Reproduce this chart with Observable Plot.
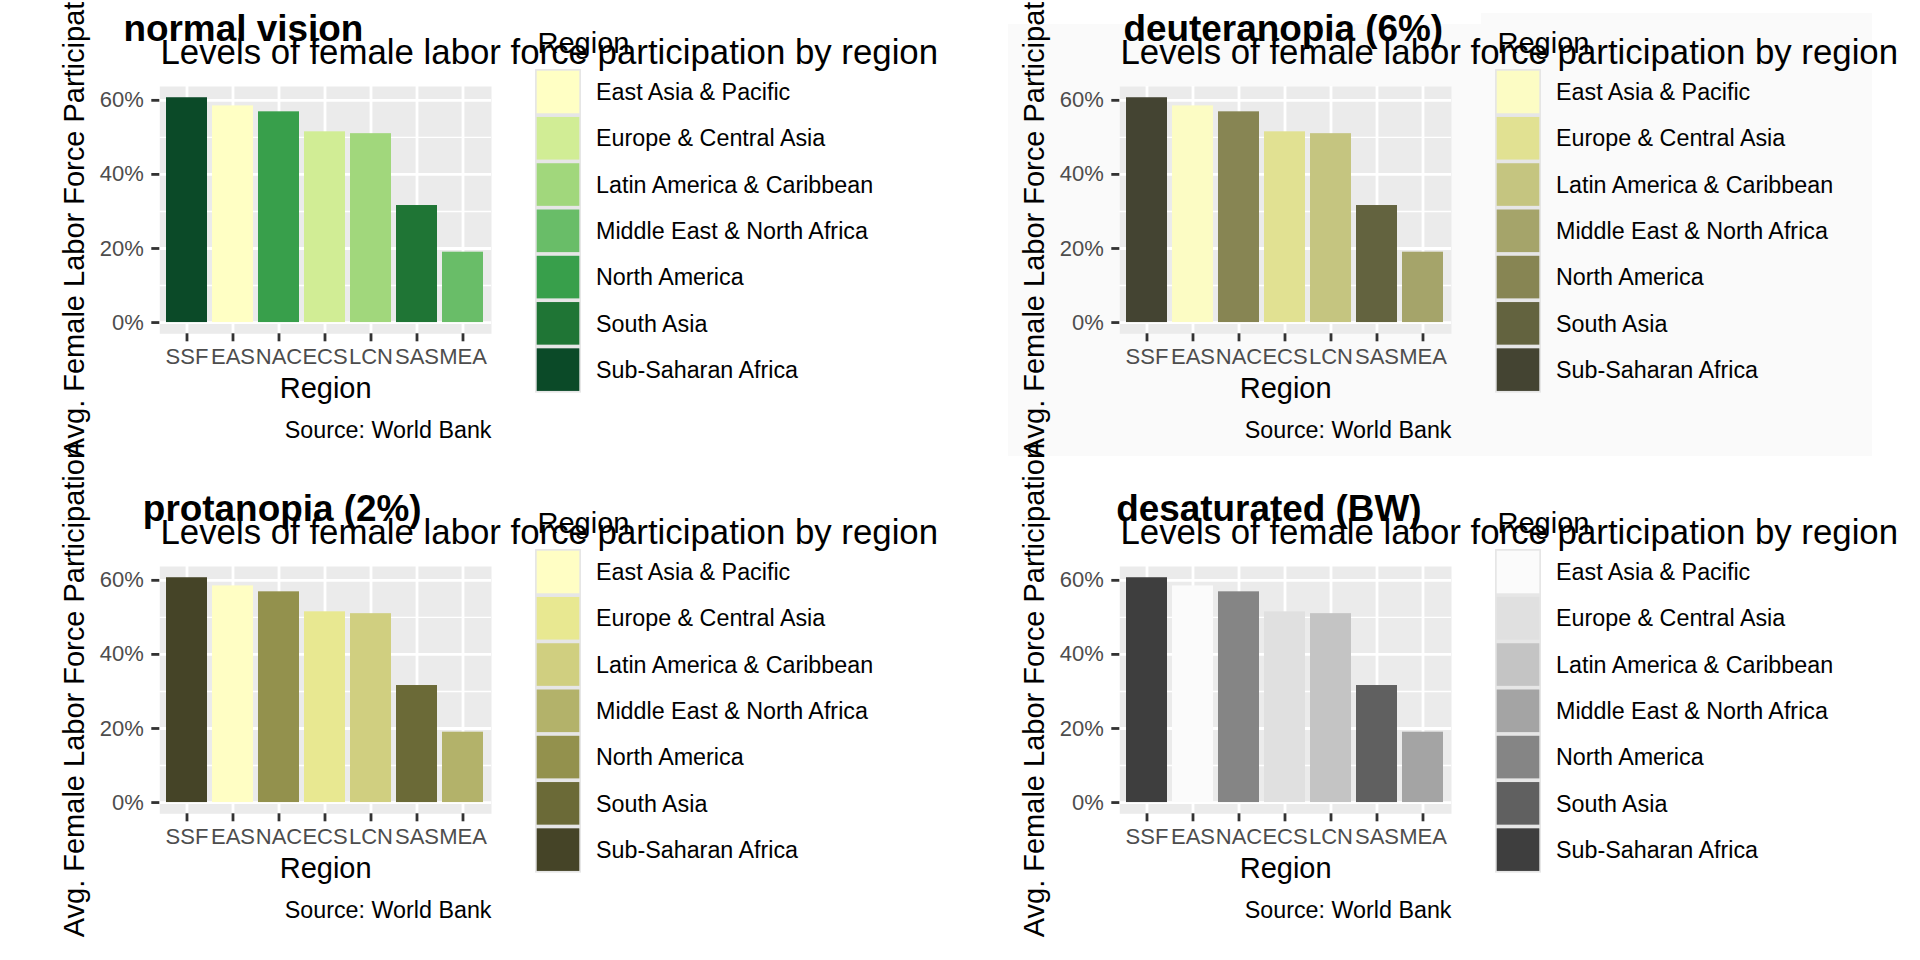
<!DOCTYPE html>
<html><head><meta charset="utf-8">
<script src="https://cdn.jsdelivr.net/npm/d3@7"></script>
<script src="https://cdn.jsdelivr.net/npm/@observablehq/plot@0.6"></script>
<style>
html,body{margin:0;padding:0;background:#fff;}
#root{position:relative;width:1920px;height:960px;overflow:hidden;background:#fff;}
.cell{position:absolute;width:960px;height:480px;}
.cell svg{position:absolute;left:0;top:0;overflow:visible;}
</style></head><body><div id="root"></div>
<script>
// ---- data ----
const codes = ["SSF","EAS","NAC","ECS","LCN","SAS","MEA"];
const codeRegions = ["Sub-Saharan Africa","East Asia & Pacific","North America","Europe & Central Asia","Latin America & Caribbean","South Asia","Middle East & North Africa"];
const participation = [60.7, 58.5, 56.9, 51.5, 51.0, 31.6, 19.0];
const legendRegions = ["East Asia & Pacific","Europe & Central Asia","Latin America & Caribbean","Middle East & North Africa","North America","South Asia","Sub-Saharan Africa"];
const yTicks = [0, 20, 40, 60];
const yMinor = [10, 30, 50];
const panelLabels = ["normal vision","deuteranopia (6%)","protanopia (2%)","desaturated (BW)"];
const paletteNormal = ["#ffffc4","#d1ed95","#a1d77c","#69bd68","#389f4b","#1f7535","#0b4a28"];
const paletteDeutan = ["#fcfcc4","#e1e192","#c5c580","#a5a46a","#878553","#63633f","#444432"];
const paletteProtan = ["#fffec4","#e8e891","#d0cf80","#b3b26a","#93914d","#6b6a37","#454427"];
const paletteDesat  = ["#fbfbfb","#e0e0e0","#c4c4c4","#a4a4a4","#858585","#606060","#3e3e3e"];
const palettes = [paletteNormal, paletteDeutan, paletteProtan, paletteDesat];
const titleText = "Levels of female labor force participation by region";
const xTitle = "Region";
const yTitle = "Avg. Female Labor Force Participation";
const caption = "Source: World Bank";
const legendTitle = "Region";

const rows = codes.map((c, i) => ({code: c, region: codeRegions[i], value: participation[i]}));
const FONT = "'Liberation Sans', Arial, Helvetica, sans-serif";

const canvas = document.createElement("canvas");
const ctx = canvas.getContext("2d");
function textWidth(t, font) { ctx.font = font; return ctx.measureText(t).width; }

const W = 960, H = 480;
const mL = 159.3, mR = 469, mT = 86, mB = 146.7;
const ymax = d3.max(participation);
const pad = ymax * 0.05;

const root = document.getElementById("root");
const cellPos = [[0,0],[960,0],[0,480],[960,480]];

panelLabels.forEach((label, k) => {
  const palette = palettes[k];
  const labW = textWidth(label, `bold 36.9px ${FONT}`);
  const labX = 3 + labW / 2; // cowplot hjust = -0.5
  const chart = Plot.plot({
    width: W, height: H,
    marginLeft: mL, marginRight: mR, marginTop: mT, marginBottom: mB,
    style: {fontFamily: FONT, fontSize: "22px", overflow: "visible", background: "transparent"},
    x: {domain: codes, paddingInner: 0.1, paddingOuter: 0.15, label: null},
    y: {domain: [-pad, ymax + pad], label: null},
    color: {domain: legendRegions, range: palette},
    marks: [
      Plot.frame({fill: "#ebebeb", stroke: "none"}),
      Plot.gridY({ticks: yMinor, stroke: "#ffffff", strokeOpacity: 1, strokeWidth: 1.4}),
      Plot.gridY({ticks: yTicks, stroke: "#ffffff", strokeOpacity: 1, strokeWidth: 2.8}),
      Plot.gridX({stroke: "#ffffff", strokeOpacity: 1, strokeWidth: 2.8}),
      Plot.barY(rows, {x: "code", y: "value", fill: "region"}),
      Plot.axisY({ticks: yTicks, tickFormat: d => d + "%", tickSize: 8, tickPadding: 8, fontSize: 22, fill: "#4d4d4d", stroke: "#333333", strokeWidth: 2.8, label: null}),
      Plot.axisX({tickSize: 8, tickPadding: 7, fontSize: 22, fill: "#4d4d4d", stroke: "#333333", strokeWidth: 2.8, label: null}),
      Plot.text([yTitle], {text: d => d, frameAnchor: "left", dx: 83.5 - mL, rotate: -90, lineAnchor: "bottom", textAnchor: "middle", fontSize: 29, fill: "black"}),
      Plot.text([xTitle], {text: d => d, frameAnchor: "bottom", dy: 397 - (H - mB), lineAnchor: "bottom", fontSize: 29, fill: "black"}),
      Plot.text([caption], {text: d => d, frameAnchor: "bottom-right", dy: 437 - (H - mB), lineAnchor: "bottom", textAnchor: "end", fontSize: 23.3, fill: "black"}),
      Plot.text([legendTitle], {text: d => d, frameAnchor: "top-left", dx: 537 - mL, dy: 52 - mT, lineAnchor: "bottom", textAnchor: "start", fontSize: 29, fill: "black"}),
      Plot.text([titleText], {text: d => d, frameAnchor: "top-left", dx: 160 - mL, dy: 63 - mT, lineAnchor: "bottom", textAnchor: "start", fontSize: 34.8, fill: "black"}),
      Plot.text([label], {text: d => d, frameAnchor: "top-left", dx: labX - mL, dy: 40 - mT, lineAnchor: "bottom", textAnchor: "start", fontSize: 36.9, fontWeight: "bold", fill: "black"})
    ]
  });
  const cell = document.createElement("div");
  cell.className = "cell";
  cell.style.left = cellPos[k][0] + "px";
  cell.style.top = cellPos[k][1] + "px";
  cell.appendChild(chart);
  root.appendChild(cell);

  const svg = d3.select(chart);
  // deuteranopia panel carries a faint background
  if (k === 1) {
    svg.insert("path", ":first-child")
      .attr("d", "M48,24 L521,24 L521,13 L912,13 L912,456 L48,456 Z")
      .attr("fill", "#fafafa");
  }
  // legend
  const color = chart.scale("color");
  const g = svg.append("g").attr("text-anchor", "start");
  const step = 46.27, key = 42.6, x0 = 536.7, y0 = 70.7;
  g.append("rect").attr("x", x0 - 1.7).attr("y", y0 - 1.7)
    .attr("width", key + 3.4).attr("height", step * 6 + key + 3.4).attr("fill", "#e6e6e6");
  legendRegions.forEach((r, i) => {
    const y = y0 + i * step;
    g.append("rect").attr("x", x0).attr("y", y).attr("width", key).attr("height", key)
      .attr("fill", color.apply(r));
    g.append("text").attr("x", 596).attr("y", y + key / 2 + 8.2)
      .attr("text-anchor", "start")
      .attr("font-size", 23.3).attr("font-family", FONT).attr("fill", "black").text(r);
  });
});
</script></body></html>
